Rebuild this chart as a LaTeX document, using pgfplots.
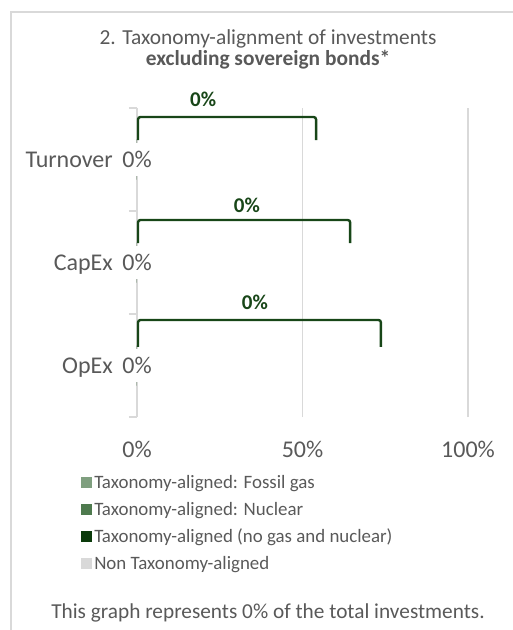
\documentclass[border=0pt]{standalone}
\usepackage{pgfplots}
\pgfplotsset{compat=1.18}
\usepackage{fontspec}
\setmainfont{Carlito}
\definecolor{txt}{HTML}{595959}
\definecolor{gridc}{HTML}{D9D9D9}
\definecolor{fossil}{HTML}{7F9F7F}
\definecolor{nuclear}{HTML}{4E7A4E}
\definecolor{aligned}{HTML}{0B3B0B}
\definecolor{nonal}{HTML}{D9D9D9}
\definecolor{brk}{HTML}{184618}

\begin{document}
\begin{tikzpicture}
\begin{scope}[x=1pt,y=1pt]
\path[use as bounding box] (0,0) rectangle (513,630);
\draw[gridc, line width=1.5pt] (11,-5) -- (11,618) -- (520,618);
\node[anchor=base, text=txt, font=\fontsize{21.4}{25}\selectfont] at (268,585) {2. Taxonomy-alignment of investments};
\node[anchor=base, text=txt, font=\fontsize{21.4}{25}\selectfont\bfseries] at (268,564) {excluding sovereign bonds*};
\node[anchor=base, text=txt, font=\fontsize{21.3}{25}\selectfont] at (268,12) {This graph represents 0\% of the total investments.};
\end{scope}

\begin{axis}[
    at={(137pt,213pt)}, anchor=south west,
    width=331pt, height=309pt, scale only axis,
    xmin=0, xmax=100, ymin=-0.5, ymax=2.5,
    axis line style={draw=none},
    xtick={0,50,100},
    xticklabels={0\%,50\%,100\%},
    ytick={0,1,2},
    yticklabels={OpEx,CapEx,Turnover},
    minor ytick={-0.5,0.5,1.5,2.5},
    major tick length=0pt,
    minor tick length=8pt,
    tick align=outside,
    ytick pos=left,
    minor tick style={gridc, line width=1.2pt},
    xmajorgrids,
    grid style={gridc, line width=1.2pt},
    tick label style={text=txt, font=\fontsize{24}{28}\selectfont, inner sep=0pt},
    xticklabel style={anchor=base, yshift=-40pt},
    yticklabel style={anchor=base east, xshift=-24pt, yshift=-8pt},
    clip=false,
    bar width=40pt,
    legend style={at={(axis cs:-16.9,-1.05)}, anchor=north west, draw=none, fill=none,
        inner sep=0pt, row sep=8pt, text=txt, font=\fontsize{18.9}{22}\selectfont,
        cells={anchor=west}},
    legend image code/.code={\fill[#1] (0pt,-5pt) rectangle (11pt,6pt);},
]
\addplot[xbar, bar shift=0pt, fill=fossil, draw=none] coordinates {(0,0) (0,1) (0,2)};
\addlegendentry{Taxonomy-aligned: Fossil gas}
\addplot[xbar, bar shift=0pt, fill=nuclear, draw=none] coordinates {(0,0) (0,1) (0,2)};
\addlegendentry{Taxonomy-aligned: Nuclear}
\addplot[xbar, bar shift=0pt, fill=aligned, draw=none,
    point meta=x,
    nodes near coords={\pgfmathprintnumber[assume math mode=true]{\pgfplotspointmeta}\%},
    nodes near coords align=center,
    every node near coord/.append style={anchor=base, yshift=-8pt, fill=white,
        inner xsep=1pt, inner ysep=8pt, text=txt, font=\fontsize{24}{28}\selectfont}]
    coordinates {(0,0) (0,1) (0,2)};
\addlegendentry{Taxonomy-aligned (no gas and nuclear)}
\addplot[xbar, bar shift=0pt, fill=nonal, draw=none] coordinates {(0,0) (0,1) (0,2)};
\addlegendentry{Non Taxonomy-aligned}

\addplot[brk, line width=2.4pt, rounded corners=2.5pt, forget plot] coordinates {(0.3,2.189) (0.3,2.413) (54.1,2.413) (54.1,2.189)};
\addplot[brk, line width=2.4pt, rounded corners=2.5pt, forget plot] coordinates {(0.3,1.189) (0.3,1.413) (64.4,1.413) (64.4,1.189)};
\addplot[brk, line width=2.4pt, rounded corners=2.5pt, forget plot] coordinates {(0.3,0.180) (0.3,0.442) (73.7,0.442) (73.7,0.180)};

\node[anchor=base, text=brk, font=\fontsize{21}{25}\selectfont\bfseries] at (axis cs:20.0,2.519) {0\%};
\node[anchor=base, text=brk, font=\fontsize{21}{25}\selectfont\bfseries] at (axis cs:33.2,1.490) {0\%};
\node[anchor=base, text=brk, font=\fontsize{21}{25}\selectfont\bfseries] at (axis cs:35.6,0.539) {0\%};
\end{axis}
\end{tikzpicture}
\end{document}
